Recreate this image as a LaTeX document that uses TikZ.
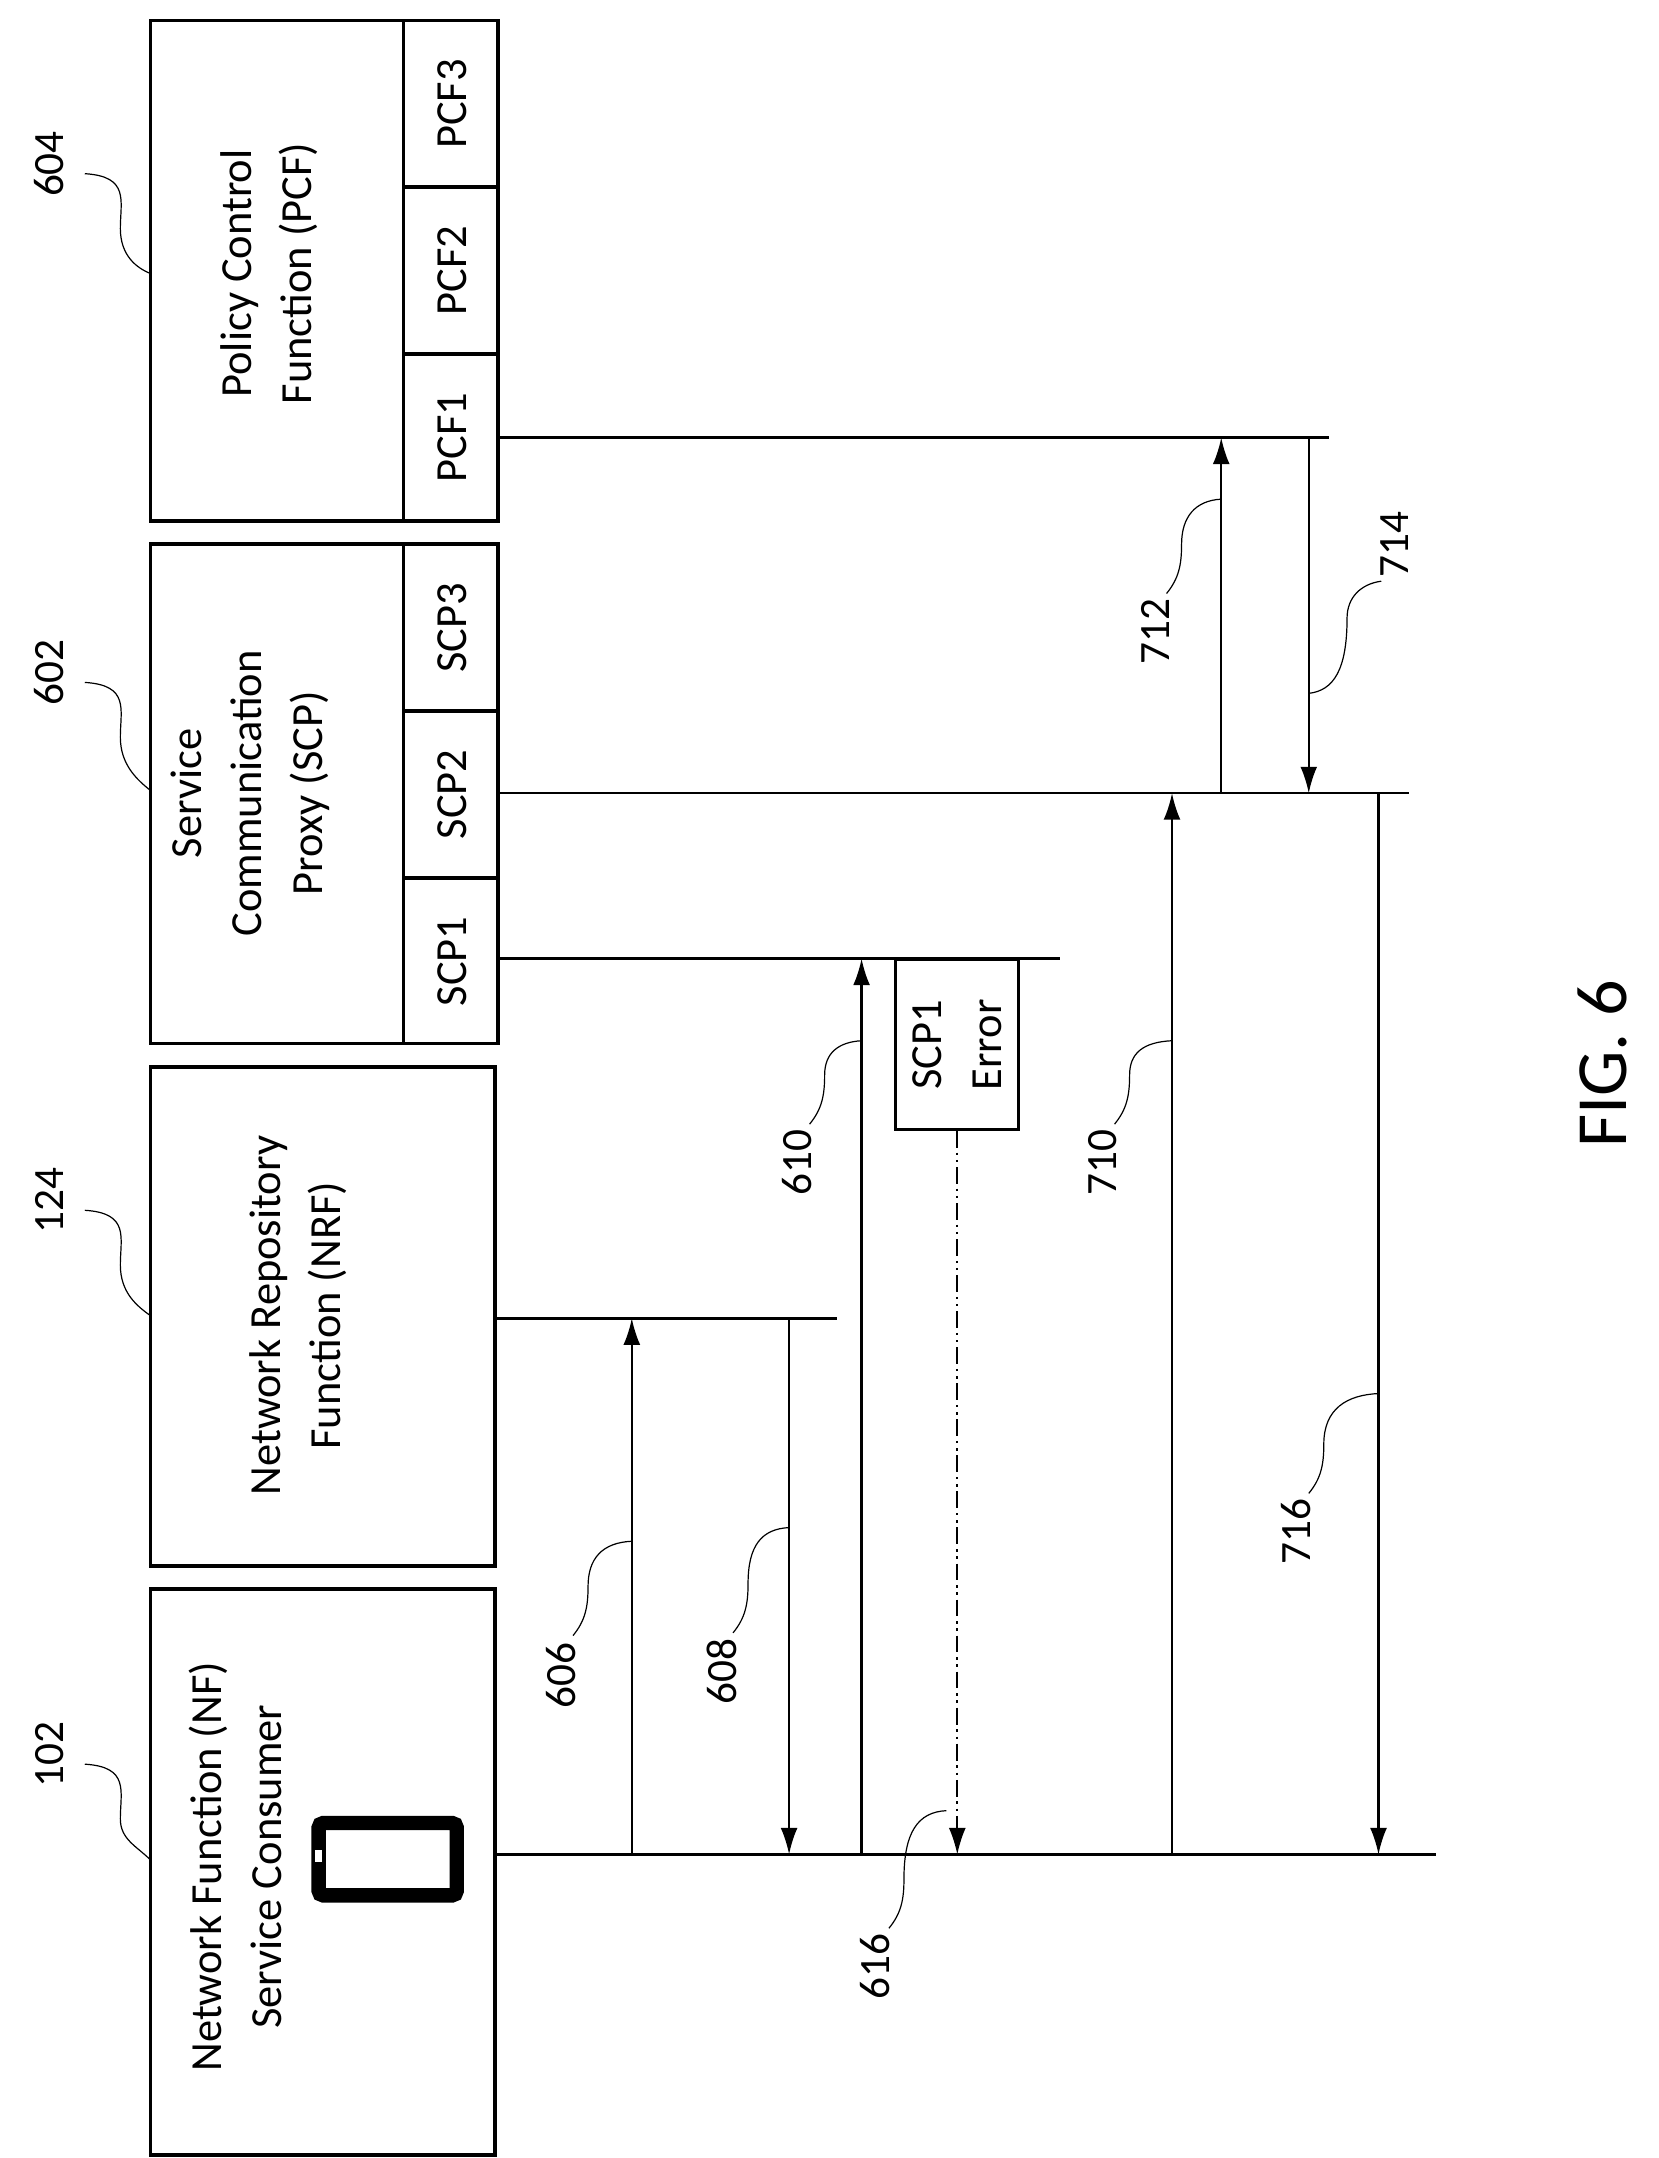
\documentclass[tikz,border=0pt]{standalone}
\usepackage{fontspec}
\setmainfont{Carlito}
\usetikzlibrary{arrows.meta}
\begin{document}
\begin{tikzpicture}[x=0.02cm,y=-0.02cm,
  box/.style={draw,line width=1.6pt},
  lbl/.style={rotate=90,font=\fontsize{18.5}{25}\selectfont,align=center,inner sep=0pt},
  life/.style={line width=1pt},
  msg/.style={line width=0.9pt,-{Latex[length=11pt,width=7pt]}},
  lead/.style={line width=0.5pt}]
\useasboundingbox (0,0) rectangle (1213,1578);
% boxes
\draw[box] (110,1162) rectangle (362,1576);
\draw[box] (110,780) rectangle (362,1145);
\draw[box] (110,398) rectangle (364,763);
\draw[box] (295,398) -- (295,763) (295,520) -- (364,520) (295,642) -- (364,642);
\draw[box] (110,15) rectangle (364,381);
\draw[box] (295,15) -- (295,381) (295,137) -- (364,137) (295,259) -- (364,259);
% texts
\node[lbl] (nf) at (172,1365) {Network Function (NF)\\Service Consumer};
\node[lbl] (nrf) at (218,962) {Network Repository\\Function (NRF)};
\node[lbl] (scp) at (183,580) {Service\\Communication\\Proxy (SCP)};
\node[lbl] (pcf) at (197,200) {Policy Control\\Function (PCF)};
\node[lbl] (s3) at (331,459) {SCP3};
\node[lbl] (s2) at (331,581) {SCP2};
\node[lbl] (s1) at (331,703) {SCP1};
\node[lbl] (p3) at (331,76) {PCF3};
\node[lbl] (p2) at (331,198) {PCF2};
\node[lbl] (p1) at (331,320) {PCF1};
% phone icon
\draw[line width=6pt,rounded corners=2pt] (233,1333) rectangle (334,1386);
\fill[white,draw=black,line width=0.5pt] (230,1352) rectangle (236,1362);
% lifelines
\coordinate (nfA) at (362,1356); \coordinate (nfB) at (1050,1356);
\coordinate (nrfA) at (362,964); \coordinate (nrfB) at (612,964);
\coordinate (s1A) at (364,701); \coordinate (s1B) at (775,701);
\coordinate (s2A) at (364,580); \coordinate (s2B) at (1030,580);
\coordinate (p1A) at (364,320); \coordinate (p1B) at (972,320);
\draw[life] (nfA) -- (nfB); \draw[life] (nrfA) -- (nrfB);
\draw[life] (s1A) -- (s1B); \draw[life] (s2A) -- (s2B);
\draw[life] (p1A) -- (p1B);
% messages
\draw[msg] (462,1356) -- (462,964);
\draw[msg] (577,964) -- (577,1356);
\draw[msg] (630,1356) -- (630,701);
\draw[msg] (857,1356) -- (857,580);
\draw[msg] (893,580) -- (893,320);
\draw[msg] (957,320) -- (957,580);
\draw[msg] (1008,580) -- (1008,1356);
% error box
\node[draw,line width=1.2pt,minimum width=1.8cm,minimum height=2.48cm,inner sep=0pt] (err) at (700,764) {};
\node[lbl] at (err) {SCP1\\Error};
\draw[line width=0.7pt,dash pattern=on 7pt off 2pt on 1pt off 2pt on 1pt off 2pt,-{Latex[length=11pt,width=7pt]}] (err.south) -- (700,1356);
% reference numbers
\tikzset{num/.style={rotate=90,font=\fontsize{18}{20}\selectfont,inner sep=0pt}}
\node[num] (n102) at (36,1283) {102};
\node[num] (n124) at (36,878) {124};
\node[num] (n602) at (36,492) {602};
\node[num] (n604) at (36,120) {604};
\node[num] (n606) at (410,1225) {606};
\node[num] (n608) at (528,1222) {608};
\node[num] (n610) at (583,850) {610};
\node[num] (n616) at (640,1438) {616};
\node[num] (n710) at (806,850) {710};
\node[num] (n712) at (845,462) {712};
\node[num] (n714) at (1020,398) {714};
\node[num] (n716) at (948,1120) {716};
\node[rotate=90,font=\fontsize{30}{32}\selectfont,inner sep=0pt] (fig) at (1172,778) {FIG. 6};
% leaders
\draw[lead] (62,1290) .. controls (95,1292) and (88,1310) .. (88,1330) .. controls (88,1345) and (100,1350) .. (110,1360);
\draw[lead] (62,885) .. controls (95,887) and (88,905) .. (88,925) .. controls (88,945) and (100,955) .. (110,962);
\draw[lead] (62,499) .. controls (95,501) and (88,519) .. (88,539) .. controls (88,559) and (100,570) .. (110,578);
\draw[lead] (62,127) .. controls (95,129) and (88,147) .. (88,167) .. controls (88,187) and (100,196) .. (110,200);
\draw[lead] (419,1196) .. controls (428,1185) and (430,1175) .. (430,1160) .. controls (430,1140) and (440,1128) .. (462,1127);
\draw[lead] (536,1194) .. controls (545,1183) and (547,1173) .. (547,1158) .. controls (547,1130) and (557,1118) .. (577,1117);
\draw[lead] (592,822) .. controls (601,811) and (603,801) .. (603,786) .. controls (603,770) and (613,762) .. (630,761);
\draw[lead] (650,1410) .. controls (659,1399) and (661,1389) .. (661,1374) .. controls (661,1340) and (671,1325) .. (692,1324);
\draw[lead] (815,822) .. controls (824,811) and (826,801) .. (826,786) .. controls (826,770) and (836,762) .. (857,761);
\draw[lead] (853,434) .. controls (862,423) and (864,413) .. (864,398) .. controls (864,378) and (874,366) .. (893,365);
\draw[lead] (1010,425) .. controls (995,427) and (985,437) .. (985,452) .. controls (985,490) and (975,505) .. (957,507);
\draw[lead] (957,1092) .. controls (966,1081) and (968,1071) .. (968,1056) .. controls (968,1030) and (985,1020) .. (1008,1019);
\end{tikzpicture}
\end{document}
